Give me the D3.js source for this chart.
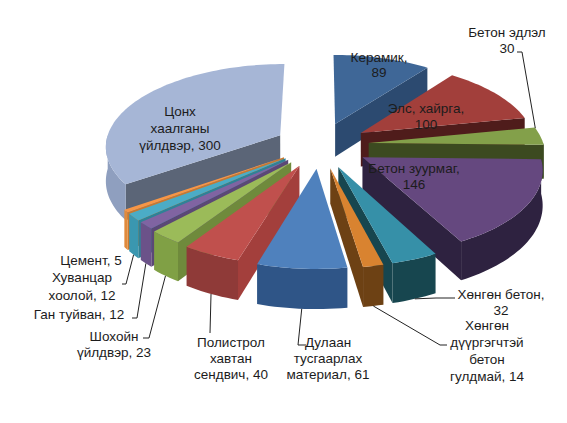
<!DOCTYPE html>
<html>
<head>
<meta charset="utf-8">
<script src="https://cdn.jsdelivr.net/npm/d3@7"></script>
<style>
	html, body { margin: 0; padding: 0; background: #fff; }
	text { font-family: "Liberation Sans", Arial, sans-serif; font-size: 13.5px; fill: #1c1c1c; }
</style>
</head>
<body>
<script>
var categories = ['Керамик', 'Элс, хайрга', 'Бетон эдлэл', 'Бетон зуурмаг', 'Хөнгөн бетон',
	'Хөнгөн дүүргэгчтэй бетон гулдмай', 'Дулаан тусгаарлах материал', 'Полистрол хавтан сендвич',
	'Шохойн үйлдвэр', 'Ган туйван', 'Хуванцар хоолой', 'Цемент', 'Цонх хаалганы үйлдвэр'];
var values = [89, 100, 30, 146, 32, 14, 61, 40, 23, 12, 12, 5, 300];

// how far each slice is pulled out of the pie
var explodes = [0.28, 0.28, 0.28, 0.28, 0.28, 0.28, 0.28, 0.27, 0.26, 0.25, 0.25, 0.25, 0.26];

// colours for the top, the cut sides and the outer rim of every slice
var topColors = ['#3f6797', '#a23f3b', '#83a04a', '#65487f', '#3690a8', '#d98330', '#4f81bd',
	'#c0504d', '#9bbb59', '#8064a2', '#4bacc6', '#f79646', '#a6b6d6'];
var sideColors = ['#2c4a70', '#4f1c1b', '#3c4a20', '#2e2240', '#17464f', '#6d4114', '#2f4f78',
	'#a33f3c', '#6f8a3c', '#5b4876', '#2f8296', '#c8782f', '#5b6577'];
var rimColors = ['#2c4a70', '#4f1c1b', '#3c4a20', '#2e2240', '#17464f', '#6d4114', '#2f5587',
	'#8f3a38', '#80a045', '#6b5289', '#3a97b0', '#e08a3c', '#8f9fbf'];

// label text, line by line, and where each one sits
var labelLines = [
	['Керамик,', '89'],
	['Элс, хайрга,', '100'],
	['Бетон эдлэл', '30'],
	['Бетон зуурмаг,', '146'],
	['Хөнгөн бетон,', '32'],
	['Хөнгөн', 'дүүргэгчтэй', 'бетон', 'гулдмай, 14'],
	['Дулаан', 'тусгаарлах', 'материал, 61'],
	['Полистрол', 'хавтан', 'сендвич, 40'],
	['Шохойн', 'үйлдвэр, 23'],
	['Ган туйван, 12'],
	['Хуванцар', 'хоолой, 12'],
	['Цемент, 5'],
	['Цонх', 'хаалганы', 'үйлдвэр, 300']
];
var labelPos = [[379, 58], [426, 109], [507, 33], [414, 169], [501, 295], [487, 326], [328, 343],
	[231, 343], [114, 337], [79, 315], [82, 278], [91, 261], [180, 112]];
var labelGap = [15, 16, 16, 16, 16, 17, 16, 16, 16, 0, 18, 0, 17];

// leader lines: the elbow points next to the label, the last point is on the pie
var leaders = [
	{ i: 2, pts: [[517, 52], [522, 52]] },
	{ i: 4, pts: [[455, 298], [436, 298]] },
	{ i: 5, pts: [[447, 345], [440, 345]] },
	{ i: 6, pts: [[306, 345], [298, 345]] },
	{ i: 7, pts: [[210, 333]] },
	{ i: 8, pts: [[143, 338], [149, 338]] },
	{ i: 9, pts: [[132, 318], [137, 318]] },
	{ i: 10, pts: [[122, 284], [126, 284]] }
];

var width = 567,
	height = 423;

var cx = 320, cy = 145,
	radiusX = 175, radiusY = 82,
	perspectiveX = 0.12, perspectiveY = 0.12,
	depth = 34;

var svg = d3.select('body').append('svg')
	.attr('width', width)
	.attr('height', height);

var pie = d3.pie().sort(null).value(function(d) { return d; })
	.startAngle(0).endAngle(2 * Math.PI);

var arcs = pie(values).map(function(d, i) {
	d.index = i;
	d.mid = (d.startAngle + d.endAngle) / 2;
	d.ox = explodes[i] * Math.sin(d.mid);
	d.oz = explodes[i] * Math.cos(d.mid);
	return d;
});

// pie plane to screen, x right, z to the back, h down from the top face
function project(x, z, h) {
	var sx = 1 / (1 + perspectiveX * z),
		sy = 1 / (1 + perspectiveY * z);
	return [cx + radiusX * x * sx, cy - radiusY * z * sy + h * depth * sx];
}

function apex(d, h) {
	return project(d.ox, d.oz, h);
}

function rimPoint(d, a, h) {
	return project(d.ox + Math.sin(a), d.oz + Math.cos(a), h);
}

function rimAngles(d, from, to) {
	var n = Math.max(2, Math.ceil((to - from) / 0.03));
	return d3.range(n + 1).map(function(k) { return from + (to - from) * k / n; });
}

var line = d3.line();

function sidePath(d, a) {
	return line([apex(d, 0), rimPoint(d, a, 0), rimPoint(d, a, 1), apex(d, 1)]) + 'Z';
}

// only the part of the rim that faces the viewer
function rimPath(d) {
	var from = Math.max(d.startAngle, Math.PI / 2),
		to = Math.min(d.endAngle, 3 * Math.PI / 2);
	if (to <= from) return null;
	var a = rimAngles(d, from, to);
	var up = a.map(function(t) { return rimPoint(d, t, 0); }),
		down = a.slice().reverse().map(function(t) { return rimPoint(d, t, 1); });
	return line(up.concat(down)) + 'Z';
}

function topPath(d) {
	var pts = rimAngles(d, d.startAngle, d.endAngle).map(function(t) { return rimPoint(d, t, 0); });
	return line([apex(d, 0)].concat(pts)) + 'Z';
}

// back to front
var order = arcs.slice().sort(function(a, b) { return Math.cos(b.mid) - Math.cos(a.mid); });

var slices = svg.append('g').attr('class', 'slices')
	.selectAll('g')
	.data(order)
	.enter().append('g');

slices.each(function(d) {
	var g = d3.select(this);
	if (Math.sin(d.startAngle) < 0) {
		g.append('path').attr('d', sidePath(d, d.startAngle)).attr('fill', sideColors[d.index]);
	}
	if (Math.sin(d.endAngle) > 0.001) {
		g.append('path').attr('d', sidePath(d, d.endAngle)).attr('fill', sideColors[d.index]);
	}
	var rim = rimPath(d);
	if (rim) g.append('path').attr('d', rim).attr('fill', rimColors[d.index]);
	g.append('path').attr('d', topPath(d)).attr('fill', topColors[d.index]);
});

// leaders end on the lower edge of the slice, or on its outer corner when it is at the back
svg.append('g').selectAll('path')
	.data(leaders)
	.enter().append('path')
	.attr('fill', 'none')
	.attr('stroke', '#222')
	.attr('stroke-width', 1)
	.attr('d', function(l) {
		var d = arcs[l.i];
		var end = l.i === 2 ? rimPoint(d, d.mid - 0.1, 0) : rimPoint(d, d.mid, 1);
		return line(l.pts.concat([end]));
	});

var labels = svg.append('g').selectAll('text')
	.data(arcs)
	.enter().append('text')
	.attr('text-anchor', 'middle');

labels.selectAll('tspan')
	.data(function(d) {
		return labelLines[d.index].map(function(t, k) {
			return { t: t, x: labelPos[d.index][0], y: labelPos[d.index][1] + k * labelGap[d.index] + 4 };
		});
	})
	.enter().append('tspan')
	.attr('x', function(d) { return d.x; })
	.attr('y', function(d) { return d.y; })
	.text(function(d) { return d.t; });
</script>
</body>
</html>
